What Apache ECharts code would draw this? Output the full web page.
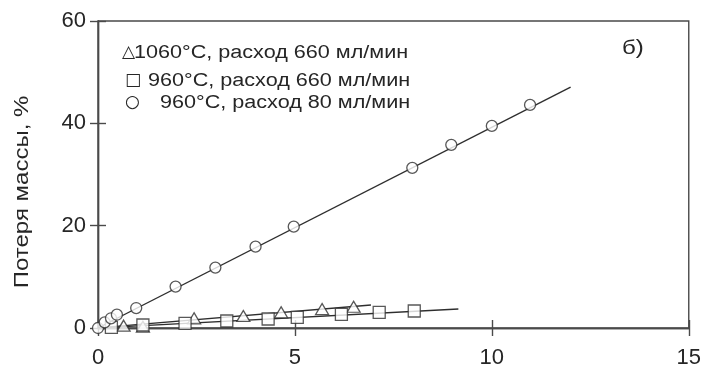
<!DOCTYPE html>
<html>
<head>
<meta charset="utf-8">
<script src="https://cdn.jsdelivr.net/npm/echarts@6/dist/echarts.min.js"></script>
<style>
  html, body { margin: 0; padding: 0; background: #ffffff; }
  #chart { width: 704px; height: 372px; }
</style>
</head>
<body>
<div id="chart"></div>
<script>
// Series labels and panel tag
const seriesNames = ['1060°C, расход 660 мл/мин', '960°C, расход 660 мл/мин', '960°C, расход 80 мл/мин'];
const seriesSymbols = ['△', '□', '○'];
const panelLabel = 'б)';
const yAxisTitle = 'Потеря массы, %';

// Axis ticks
const xTicks = [0, 5, 10, 15];
const yTicks = [0, 20, 40, 60];

// 1060°C, 660 ml/min (triangles)
const triX = [0.65, 1.14, 2.44, 3.69, 4.65, 5.69, 6.49];
const triY = [0.45, 0.25, 1.9, 2.34, 3.06, 3.7, 4.15];
// 960°C, 660 ml/min (squares)
const sqX = [0.34, 1.14, 2.21, 3.27, 4.32, 5.06, 6.18, 7.14, 8.03];
const sqY = [0.14, 0.59, 0.92, 1.37, 1.76, 2.09, 2.67, 3.06, 3.32];
// 960°C, 80 ml/min (circles)
const circX = [0, 0.17, 0.33, 0.48, 0.97, 1.97, 2.98, 4.0, 4.97, 7.98, 8.97, 10.0, 10.97];
const circY = [0, 1.1, 1.9, 2.6, 3.9, 8.1, 11.8, 15.9, 19.8, 31.3, 35.8, 39.5, 43.6];

// Linear fits, drawn between their end points
const triFitX = [0.3, 6.93];
const triFitY = [0.22, 4.49];
const sqFitX = [0.3, 9.15];
const sqFitY = [0.12, 3.7];
const circFitX = [0, 12];
const circFitY = [0, 47.1];

const zip = (xs, ys) => xs.map((x, i) => [x, ys[i]]);

const FONT = '"Liberation Sans", Arial, sans-serif';
const INK = '#262626';
const AXIS = '#4a4a4a';

function makeAxis(ticks, inside, extra) {
  return Object.assign({
    type: 'value',
    min: ticks[0],
    max: ticks[ticks.length - 1],
    interval: ticks[1] - ticks[0],
    splitLine: { show: false },
    axisLine: { show: true, lineStyle: { color: AXIS, width: 1.4 } },
    axisTick: { show: true, inside: inside, length: 8, lineStyle: { color: AXIS, width: 1.4 } },
    axisLabel: { show: false }
  }, extra || {});
}

const markerStyle = { color: '#ffffff', borderColor: '#2e2e2e', borderWidth: 1.3 };
const fitStyle = { color: '#2e2e2e', width: 1.4 };

function scatter(name, symbol, size, data) {
  return {
    name: name,
    type: 'scatter',
    symbol: symbol,
    symbolSize: size,
    data: data,
    itemStyle: markerStyle,
    z: 5
  };
}
function fit(name, data) {
  return {
    name: name,
    type: 'line',
    data: data,
    symbol: 'none',
    lineStyle: fitStyle,
    silent: true,
    z: 2
  };
}

function legendRow(symbol, symX, text, textX, y) {
  return [
    {
      type: 'text', x: symX, y: y,
      style: { text: symbol, fontSize: 17, fontFamily: '"DejaVu Sans", sans-serif', fill: INK, verticalAlign: 'middle' }
    },
    {
      type: 'text', x: textX, y: y, scaleX: 1.2,
      style: { text: text, fontSize: 18, fontFamily: FONT, fill: INK, verticalAlign: 'middle' }
    }
  ];
}

const chart = echarts.init(document.getElementById('chart'));
chart.setOption({
  animation: false,
  backgroundColor: '#ffffff',
  grid: {
    left: 98, right: 11, top: 21, bottom: 44,
    show: true, borderColor: AXIS, borderWidth: 1.4
  },
  xAxis: [
    makeAxis(xTicks, true, {
      position: 'bottom',
      axisLabel: { show: true, fontSize: 22, fontFamily: FONT, color: INK, margin: 19 }
    }),
    makeAxis(xTicks, false, { position: 'bottom' })
  ],
  yAxis: [
    makeAxis(yTicks, true, {
      position: 'left',
      axisLabel: { show: true, fontSize: 22, fontFamily: FONT, color: INK, margin: 12 }
    }),
    makeAxis(yTicks, false, { position: 'left' })
  ],
  series: [
    fit('fit-tri', zip(triFitX, triFitY)),
    fit('fit-sq', zip(sqFitX, sqFitY)),
    fit('fit-circ', zip(circFitX, circFitY)),
    scatter(seriesNames[0], 'triangle', [13, 11], zip(triX, triY)),
    scatter(seriesNames[1], 'rect', 12, zip(sqX, sqY)),
    scatter(seriesNames[2], 'circle', 11, zip(circX, circY))
  ],
  graphic: [
    ...legendRow(seriesSymbols[0], 122, seriesNames[0], 134, 53),
    ...legendRow(seriesSymbols[1], 125, seriesNames[1], 148, 81),
    ...legendRow(seriesSymbols[2], 125, seriesNames[2], 160, 103),
    {
      type: 'text', x: 622, y: 48, scaleX: 1.15,
      style: { text: panelLabel, fontSize: 21, fontFamily: FONT, fill: INK, verticalAlign: 'middle' }
    },
    {
      // vertical axis title
      type: 'text', x: 22, y: 192, rotation: Math.PI / 2, scaleX: 1.2,
      style: { text: yAxisTitle, fontSize: 20, fontFamily: FONT, fill: INK, align: 'center', verticalAlign: 'middle' }
    }
  ]
});
</script>
</body>
</html>
